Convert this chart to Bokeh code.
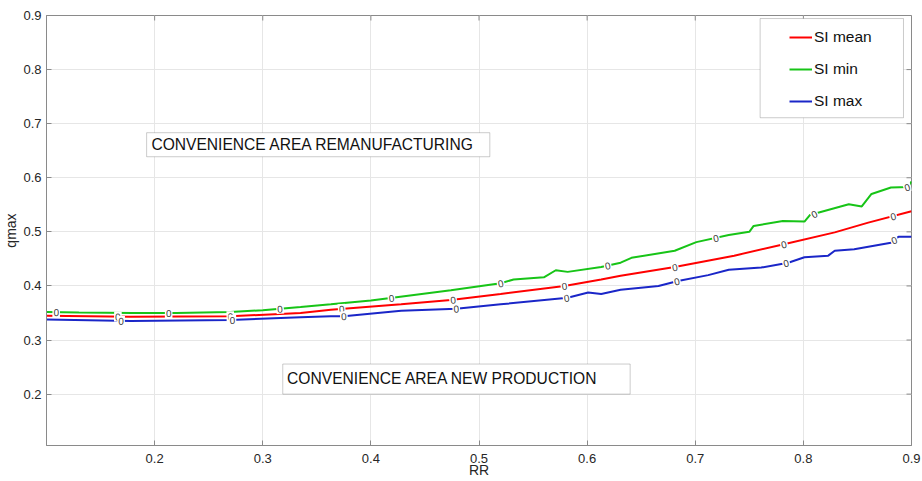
import numpy as np
from bokeh.plotting import figure
from bokeh.models import (BoxAnnotation, Label, Legend, LegendItem,
                          FixedTicker, Range1d, ColumnDataSource)
from bokeh.core.properties import value
from bokeh.embed import file_html
from bokeh.resources import INLINE

# ---------------- data ----------------
green_x = [0.100, 0.130, 0.180, 0.220, 0.270, 0.300, 0.335, 0.363, 0.400, 0.420,
           0.474, 0.520, 0.532, 0.560, 0.571, 0.582, 0.613, 0.631, 0.641, 0.681,
           0.701, 0.731, 0.750, 0.754, 0.781, 0.801, 0.806, 0.842, 0.854, 0.863,
           0.881, 0.897, 0.900]
green_y = [0.352, 0.351, 0.350, 0.350, 0.352, 0.355, 0.361, 0.366, 0.373, 0.378,
           0.392, 0.405, 0.412, 0.416, 0.429, 0.426, 0.435, 0.443, 0.452, 0.465,
           0.481, 0.494, 0.500, 0.511, 0.520, 0.519, 0.531, 0.551, 0.547, 0.570,
           0.582, 0.583, 0.593]

red_x = [0.100, 0.178, 0.270, 0.335, 0.363, 0.428, 0.474, 0.520, 0.579, 0.613,
         0.631, 0.681, 0.736, 0.782, 0.829, 0.860, 0.900]
red_y = [0.345, 0.343, 0.344, 0.350, 0.356, 0.366, 0.374, 0.385, 0.400, 0.412,
         0.419, 0.435, 0.456, 0.477, 0.499, 0.517, 0.538]

blue_x = [0.100, 0.178, 0.270, 0.335, 0.363, 0.375, 0.428, 0.479, 0.520, 0.582,
          0.601, 0.613, 0.631, 0.666, 0.684, 0.712, 0.731, 0.761, 0.786, 0.801,
          0.823, 0.829, 0.847, 0.881, 0.888, 0.900]
blue_y = [0.338, 0.335, 0.337, 0.342, 0.344, 0.344, 0.354, 0.358, 0.366, 0.378,
          0.388, 0.385, 0.393, 0.400, 0.409, 0.420, 0.430, 0.434, 0.443, 0.453,
          0.456, 0.465, 0.468, 0.480, 0.491, 0.491]

# contour label positions (RR)
green_lab_x = [0.109, 0.213, 0.316, 0.419, 0.520, 0.619, 0.719, 0.810, 0.896]
red_lab_x = [0.166, 0.270, 0.373, 0.476, 0.579, 0.681, 0.782, 0.883]
blue_lab_x = [0.169, 0.272, 0.375, 0.479, 0.581, 0.683, 0.784, 0.884]

x_ticks = [0.2, 0.3, 0.4, 0.5, 0.6, 0.7, 0.8, 0.9]
y_ticks = [0.2, 0.3, 0.4, 0.5, 0.6, 0.7, 0.8, 0.9]

series_names = ["SI mean", "SI min", "SI max"]
FONT = "Liberation Sans"

# ---------------- figure ----------------
X0, X1, Y0, Y1 = 0.1, 0.9, 0.105, 0.9
FW, FH = 865, 430
p = figure(width=922, height=481, output_backend="svg", toolbar_location=None,
           x_range=Range1d(X0, X1), y_range=Range1d(Y0, Y1),
           min_border_left=46, min_border_right=11, min_border_top=15,
           min_border_bottom=36)
p.background_fill_color = "white"
p.border_fill_color = "white"
p.outline_line_color = "#8a8a8a"
p.outline_line_width = 1

for ax, ticks in ((p.xaxis[0], x_ticks), (p.yaxis[0], y_ticks)):
    ax.ticker = FixedTicker(ticks=ticks)
    ax.major_tick_in = 5
    ax.major_tick_out = 0
    ax.minor_tick_line_color = None
    ax.axis_line_color = "#8a8a8a"
    ax.major_tick_line_color = "#8a8a8a"
    ax.major_label_text_font = FONT
    ax.major_label_text_font_size = "13px"
    ax.major_label_text_color = "#262626"
    ax.axis_label_text_font = FONT
    ax.axis_label_text_font_size = "14px"
    ax.axis_label_text_font_style = "normal"
    ax.axis_label_text_color = "#262626"
p.xaxis[0].major_label_standoff = 8
p.xaxis[0].axis_label_standoff = -4
p.yaxis[0].major_label_standoff = 5
p.yaxis[0].axis_label_standoff = 1
p.xaxis[0].axis_label = "RR"
p.yaxis[0].axis_label = "qmax"

ppx = FW / (X1 - X0)
ppy = FH / (Y1 - Y0)

p.xgrid.ticker = FixedTicker(ticks=x_ticks)
p.ygrid.ticker = FixedTicker(ticks=y_ticks)
p.grid.grid_line_color = "#e6e6e6"
p.grid.grid_line_width = 1

# box ticks on top / right (inward, 5 px)
tx = np.array(x_ticks)
ty = np.array(y_ticks)
dx5 = 5 / ppx
dy5 = 5 / ppy
p.segment(x0=tx, y0=[Y1] * len(tx), x1=tx, y1=Y1 - dy5, line_color="#8a8a8a", line_width=1)
p.segment(x0=[X1] * len(ty), y0=ty, x1=X1 - dx5, y1=ty, line_color="#8a8a8a", line_width=1)

colors = {"SI mean": "#ff0000", "SI min": "#17c417", "SI max": "#1a26c8"}
data = {"SI mean": (red_x, red_y, red_lab_x),
        "SI min": (green_x, green_y, green_lab_x),
        "SI max": (blue_x, blue_y, blue_lab_x)}

renderers = {}
for name in series_names:
    xs, ys, lx = data[name]
    r = p.line(xs, ys, line_color=colors[name], line_width=2)
    renderers[name] = r

# contour labels "0"
for name in series_names:
    xs, ys, lx = data[name]
    xs_a = np.array(xs); ys_a = np.array(ys)
    lx_a = np.array(lx)
    ly = np.interp(lx_a, xs_a, ys_a)
    dx = 0.008
    slope = (np.interp(lx_a + dx, xs_a, ys_a) - np.interp(lx_a - dx, xs_a, ys_a)) / (2 * dx)
    ang = np.arctan(slope * ppy / ppx)
    src = ColumnDataSource(dict(x=lx_a, y=ly, a=ang, t=["0"] * len(lx_a)))
    p.text(x="x", y="y", text="t", angle="a", source=src,
           text_font=value(FONT), text_font_size="10px", text_color="#404040",
           text_align="center", text_baseline="middle",
           background_fill_color="white", padding=1)

# annotation boxes
p.add_layout(BoxAnnotation(left=0.1926, right=0.510, bottom=0.6389, top=0.6833,
                           fill_color="white", fill_alpha=1.0,
                           line_color="#555555", line_width=1, level="annotation"))
p.add_layout(BoxAnnotation(left=0.3185, right=0.6398, bottom=0.200, top=0.2556,
                           fill_color="white", fill_alpha=1.0,
                           line_color="#555555", line_width=1, level="annotation"))
p.add_layout(Label(x=0.197, y=0.661, text="CONVENIENCE AREA REMANUFACTURING",
                   text_font=FONT, text_font_size="15.6px", text_color="#111111",
                   text_baseline="middle"))
p.add_layout(Label(x=0.3225, y=0.228, text="CONVENIENCE AREA NEW PRODUCTION",
                   text_font=FONT, text_font_size="15.6px", text_color="#111111",
                   text_baseline="middle"))

# legend
p.add_layout(BoxAnnotation(left=0.760, right=0.8926, bottom=0.711, top=0.8944,
                           fill_color="white", fill_alpha=1.0,
                           line_color="#555555", line_width=1, level="annotation"))
legend = Legend(items=[LegendItem(label=n, renderers=[renderers[n]]) for n in series_names],
                location=(743, 334), padding=0, margin=0, spacing=12,
                label_height=20, glyph_height=20, glyph_width=23, label_standoff=2,
                label_text_font=FONT, label_text_font_size="15.5px",
                label_text_color="#111111",
                background_fill_alpha=0.0, border_line_color=None)
p.add_layout(legend, "center")

open("out.html", "w").write(file_html(p, INLINE))
